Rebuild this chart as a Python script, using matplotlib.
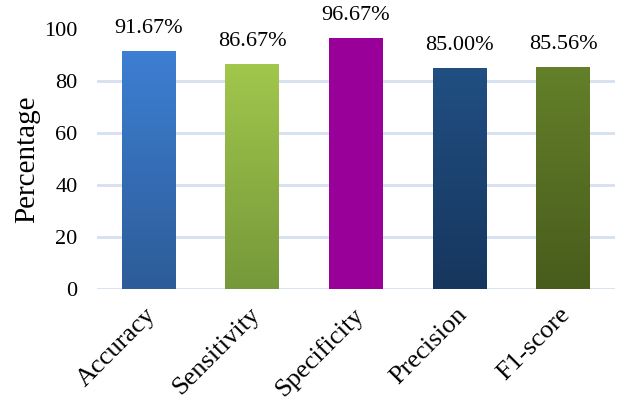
import numpy as np
import matplotlib
matplotlib.use("Agg")
import matplotlib.pyplot as plt
import matplotlib.transforms as mtrans
from matplotlib.colors import LinearSegmentedColormap

# Metric values (%)
metrics = ["Accuracy", "Sensitivity", "Specificity", "Precision", "F1-score"]
values = [91.67, 86.67, 96.67, 85.00, 85.56]
value_labels = ["91.67%", "86.67%", "96.67%", "85.00%", "85.56%"]

# Top / bottom colours of each bar's vertical gradient
top_colors = ["#3D7FD3", "#A2C74C", "#990099", "#214F82", "#64802A"]
bottom_colors = ["#2D5C98", "#76983A", "#990099", "#16365E", "#485C1C"]

plt.rcParams["font.family"] = ["Liberation Serif", "DejaVu Serif"]

fig = plt.figure(figsize=(6.3, 4), dpi=100)
ax = fig.add_axes([0.154, 0.2775, 0.822, 0.65])

x = np.arange(len(metrics))
bars = ax.bar(x, values, width=0.52, color="none", zorder=3)

# Fill each bar with a vertical gradient
grad = np.linspace(0, 1, 256).reshape(-1, 1)
for bar, c_top, c_bot in zip(bars, top_colors, bottom_colors):
    cmap = LinearSegmentedColormap.from_list("g", [c_bot, c_top])
    x0, w, h = bar.get_x(), bar.get_width(), bar.get_height()
    im = ax.imshow(grad, cmap=cmap, origin="lower", aspect="auto",
                   extent=[x0, x0 + w, 0, h], zorder=3)
    im.set_clip_path(bar)

for xi, v, lab in zip(x, values, value_labels):
    ax.annotate(lab, (xi, v), xytext=(0, 9), textcoords="offset points",
                ha="center", va="bottom", fontsize=16)

ax.set_xlim(-0.5, len(metrics) - 0.5)
ax.set_ylim(0, 100)
ax.set_yticks(range(0, 101, 20))
ax.tick_params(axis="y", labelsize=16, length=0, pad=14)
ax.tick_params(axis="x", labelsize=19, length=0, pad=4)
ax.set_xticks(x)
ax.set_xticklabels(metrics, rotation=45, ha="right", rotation_mode="anchor")
ax.set_ylabel("Percentage", fontsize=21, labelpad=3)

# nudge category labels so they hang just below the bar centre
shift = mtrans.ScaledTranslation(-4 / 100, -9 / 100, fig.dpi_scale_trans)
for lab in ax.get_xticklabels():
    lab.set_transform(lab.get_transform() + shift)

# Light horizontal gridlines (0 to 80)
for yv in range(0, 81, 20):
    ax.axhline(yv, color="#D6E0F0", lw=2, zorder=1)

for s in ax.spines.values():
    s.set_visible(False)

fig.savefig("out.png", dpi=100)
